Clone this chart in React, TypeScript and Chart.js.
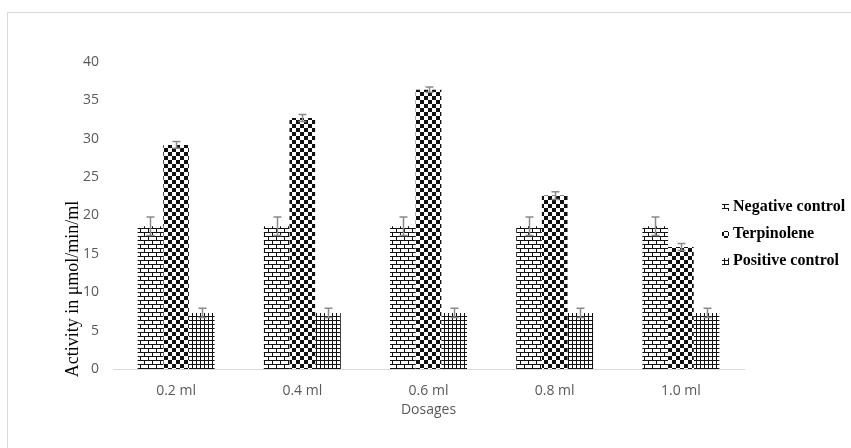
import React, { useEffect, useRef } from "react";
import { Chart, registerables } from "chart.js";

Chart.register(...registerables);

const categories = ["0.2 ml", "0.4 ml", "0.6 ml", "0.8 ml", "1.0 ml"];
const seriesNames = ["Negative control", "Terpinolene", "Positive control"];
const negativeControl = [18.6, 18.6, 18.6, 18.6, 18.6];
const terpinolene = [29.2, 32.7, 36.4, 22.6, 15.9];
const positiveControl = [7.3, 7.3, 7.3, 7.3, 7.3];
const negativeErr = [1.2, 1.2, 1.2, 1.2, 1.2];
const terpinoleneErr = [0.45, 0.45, 0.35, 0.5, 0.45];
const positiveErr = [0.6, 0.6, 0.6, 0.6, 0.6];
const yTicks = [0, 5, 10, 15, 20, 25, 30, 35, 40];
const yTitle = "Activity in \u03bcmol/min/ml";
const xTitle = "Dosages";

function makePattern(kind: string): CanvasPattern | string {
  const c = document.createElement("canvas");
  const ink = "#111";
  if (kind === "brick") {
    c.width = 8; c.height = 8;
    const g = c.getContext("2d")!;
    g.fillStyle = "#fff"; g.fillRect(0, 0, 8, 8);
    g.fillStyle = ink;
    g.fillRect(0, 0, 8, 1);
    g.fillRect(0, 1, 1, 3);
    g.fillRect(0, 4, 8, 1);
    g.fillRect(4, 5, 1, 3);
  } else if (kind === "checker") {
    c.width = 8; c.height = 8;
    const g = c.getContext("2d")!;
    g.fillStyle = "#fff"; g.fillRect(0, 0, 8, 8);
    g.fillStyle = ink;
    g.fillRect(0, 0, 4, 4);
    g.fillRect(4, 4, 4, 4);
  } else {
    c.width = 4; c.height = 4;
    const g = c.getContext("2d")!;
    g.fillStyle = "#fff"; g.fillRect(0, 0, 4, 4);
    g.fillStyle = ink;
    g.fillRect(0, 0, 4, 1);
    g.fillRect(0, 0, 1, 4);
  }
  const ctx = document.createElement("canvas").getContext("2d")!;
  return ctx.createPattern(c, "repeat") || ink;
}

export default function App() {
  const ref = useRef<HTMLCanvasElement | null>(null);

  useEffect(() => {
    if (!ref.current) return;
    const patterns = [makePattern("brick"), makePattern("checker"), makePattern("grid")];
    const errs = [negativeErr, terpinoleneErr, positiveErr];

    const errorBars = {
      id: "errorBars",
      afterDatasetsDraw(chart: any) {
        const ctx = chart.ctx;
        const y = chart.scales.y;
        ctx.save();
        ctx.strokeStyle = "#8a8a8a";
        ctx.lineWidth = 1.5;
        chart.data.datasets.forEach((ds: any, i: number) => {
          const meta = chart.getDatasetMeta(i);
          meta.data.forEach((el: any, j: number) => {
            const v = ds.data[j];
            const e = errs[i][j];
            const top = y.getPixelForValue(v + e);
            const bot = y.getPixelForValue(v - e);
            const x = Math.round(el.x) + 0.5;
            ctx.beginPath();
            ctx.moveTo(x, top);
            ctx.lineTo(x, bot);
            ctx.moveTo(x - 4, top);
            ctx.lineTo(x + 4, top);
            ctx.moveTo(x - 4, bot);
            ctx.lineTo(x + 4, bot);
            ctx.stroke();
          });
        });
        ctx.restore();
      },
    };

    const extras = {
      id: "extras",
      afterDraw(chart: any) {
        const ctx = chart.ctx;
        ctx.save();
        // y axis title
        ctx.translate(73, 289);
        ctx.rotate(-Math.PI / 2);
        ctx.fillStyle = "#000";
        ctx.font = "18px 'Liberation Serif'";
        ctx.textAlign = "center";
        ctx.textBaseline = "middle";
        ctx.fillText(yTitle, 0, 0);
        ctx.restore();
        // legend
        ctx.save();
        ctx.font = "bold 16px 'Liberation Serif'";
        ctx.textAlign = "left";
        ctx.textBaseline = "middle";
        chart.data.datasets.forEach((ds: any, i: number) => {
          const yc = 207 + i * 27;
          ctx.fillStyle = ds.backgroundColor;
          ctx.fillRect(722, yc - 3, 7, 7);
          ctx.fillStyle = "#000";
          ctx.fillText(ds.label, 733, yc);
        });
        ctx.restore();
      },
    };

    const chart = new Chart(ref.current, {
      type: "bar",
      data: {
        labels: categories,
        datasets: [
          { label: seriesNames[0], data: negativeControl, backgroundColor: patterns[0] as any, borderWidth: 0 },
          { label: seriesNames[1], data: terpinolene, backgroundColor: patterns[1] as any, borderWidth: 0 },
          { label: seriesNames[2], data: positiveControl, backgroundColor: patterns[2] as any, borderWidth: 0 },
        ],
      },
      options: {
        animation: false,
        responsive: false,
        devicePixelRatio: 1,
        layout: { padding: { left: 0, right: 107, top: 62, bottom: 0 } },
        datasets: { bar: { categoryPercentage: 0.61, barPercentage: 1.0 } },
        plugins: {
          legend: { display: false },
          tooltip: { enabled: false },
        },
        scales: {
          x: {
            grid: { display: false, drawTicks: false },
            border: { display: true, color: "#d9d9d9", width: 1 },
            ticks: { color: "#595959", font: { family: "'Open Sans'", size: 14 }, padding: 14 },
            title: {
              display: true,
              text: xTitle,
              color: "#595959",
              font: { family: "'Open Sans'", size: 14 },
              padding: { top: 0, bottom: 30 },
            },
            afterFit: (s: any) => { s.height = 79; },
          },
          y: {
            min: 0,
            max: 40,
            grid: { display: false, drawTicks: false },
            border: { display: false },
            afterBuildTicks: (s: any) => { s.ticks = yTicks.map((v) => ({ value: v })); },
            ticks: { color: "#595959", font: { family: "'Open Sans'", size: 14 }, padding: 14 },
            afterFit: (s: any) => { s.width = 113; },
          },
        },
      },
      plugins: [errorBars, extras],
    });
    return () => chart.destroy();
  }, []);

  return (
    <div style={{ position: "fixed", left: 0, top: 0, width: 851, height: 448, background: "#fff", overflow: "hidden" }}>
      <div style={{ position: "absolute", left: 7, top: 12, right: -10, bottom: -10, border: "1px solid #d9d9d9" }} />
      <canvas ref={ref} width={851} height={448} style={{ position: "absolute", left: 0, top: 0 }} />
    </div>
  );
}
